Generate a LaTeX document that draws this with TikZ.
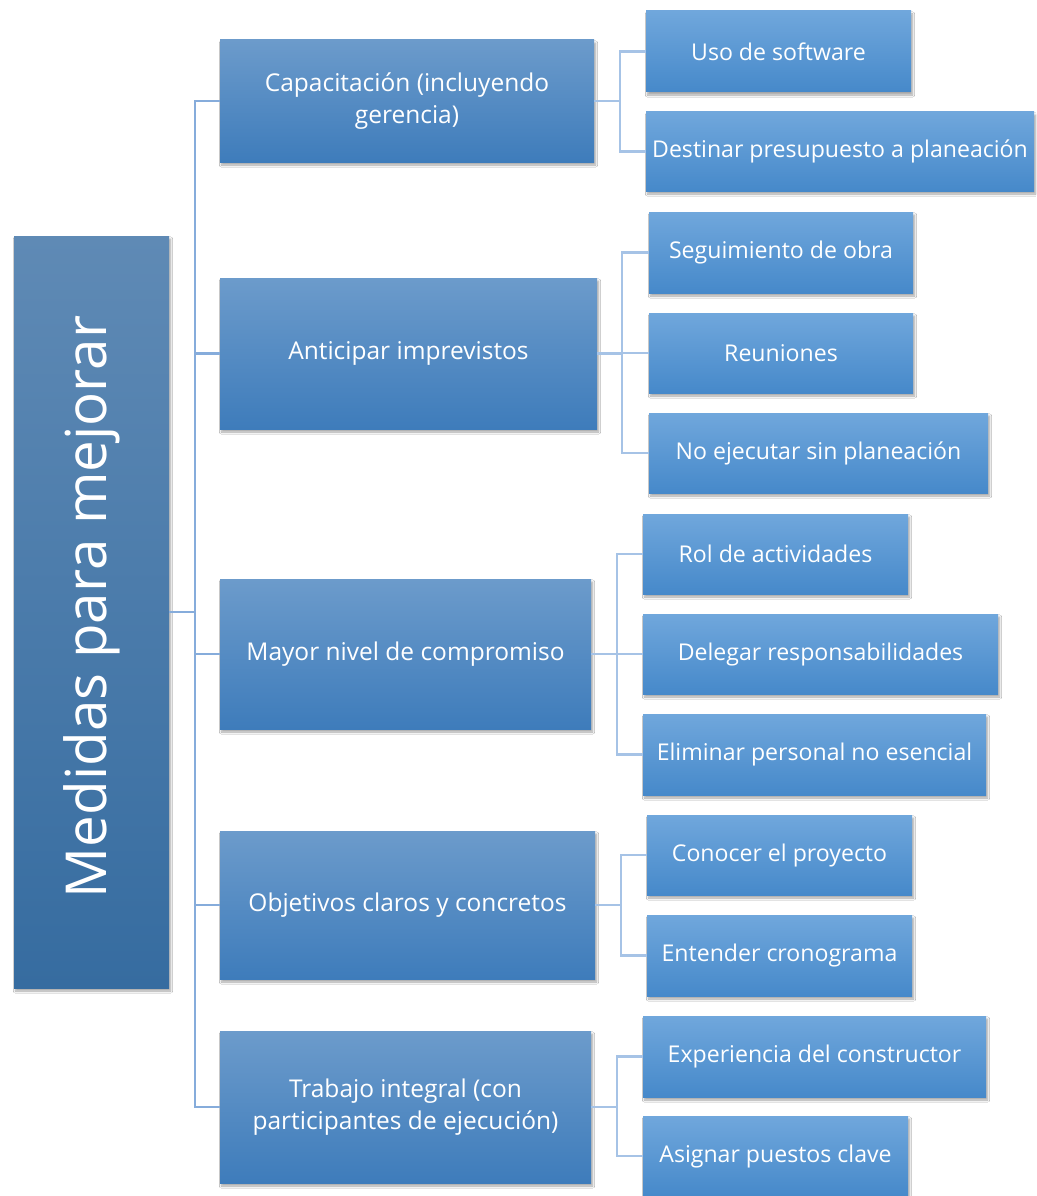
\documentclass[tikz,border=0pt]{standalone}
\usepackage{fontspec}
\setmainfont{Open Sans}
\usetikzlibrary{shadows.blur}
\definecolor{rootT}{HTML}{5F8AB5}
\definecolor{rootB}{HTML}{366CA0}
\definecolor{oneT}{HTML}{6C9BCB}
\definecolor{oneB}{HTML}{3E7CBB}
\definecolor{twoT}{HTML}{70A7DC}
\definecolor{twoB}{HTML}{4689CA}
\definecolor{linkA}{HTML}{86ACDB}
\definecolor{linkB}{HTML}{A6C3E6}
\tikzset{
  boxbase/.style={rectangle, inner sep=0pt, text=white, align=center,
    blur shadow={shadow xshift=1.5pt, shadow yshift=-3pt, shadow blur steps=6, shadow opacity=35}},
  rootbox/.style={boxbase, top color=rootT, bottom color=rootB, minimum width=155pt, minimum height=752pt},
  onebox/.style={boxbase, top color=oneT, bottom color=oneB, font=\fontsize{24.5}{32}\selectfont},
  twobox/.style={boxbase, top color=twoT, bottom color=twoB, font=\fontsize{23.1}{28}\selectfont},
  linka/.style={draw=linkA, line width=2.5pt},
  linkb/.style={draw=linkB, line width=2.5pt}
}
\begin{document}
\begin{tikzpicture}[x=1pt,y=-1pt]
\fill[white] (0,0) rectangle (1036,1196);
\useasboundingbox (0,0) rectangle (1036,1196);
% root
\node[rootbox] (root) at (91.5,612) {};
\node[text=white, rotate=90, font=\fontsize{56.5}{64}\selectfont] (roottext) at (91.5,607) {Medidas para mejorar};
% level 1
\node[onebox, minimum width=374pt, minimum height=122pt] (l1) at (407,101) {Capacitación (incluyendo\\gerencia)};
\node[onebox, minimum width=377pt, minimum height=151pt] (l2) at (408.5,353.5) {Anticipar imprevistos};
\node[onebox, minimum width=371pt, minimum height=150pt] (l3) at (405.5,654) {Mayor nivel de compromiso};
\node[onebox, minimum width=375pt, minimum height=148pt] (l4) at (407.5,905) {Objetivos claros y concretos};
\node[onebox, minimum width=371pt, minimum height=152pt] (l5) at (405.5,1107) {Trabajo integral (con\\participantes de ejecución)};
% level 2
\node[twobox, minimum width=265pt, minimum height=81pt] (a1) at (778.5,51.5) {Uso de software};
\node[twobox, minimum width=388pt, minimum height=79pt] (a2) at (840,151.5) {Destinar presupuesto a planeación};
\node[twobox, minimum width=264pt, minimum height=81pt] (b1) at (781,252.5) {Seguimiento de obra};
\node[twobox, minimum width=264pt, minimum height=80pt] (b2) at (781,353) {Reuniones};
\node[twobox, minimum width=339pt, minimum height=80pt] (b3) at (818.5,453) {No ejecutar sin planeación};
\node[twobox, minimum width=265pt, minimum height=80pt] (c1) at (775.5,554) {Rol de actividades};
\node[twobox, minimum width=355pt, minimum height=80pt] (c2) at (820.5,654) {Delegar responsabilidades};
\node[twobox, minimum width=343pt, minimum height=81pt] (c3) at (814.5,754.5) {Eliminar personal no esencial};
\node[twobox, minimum width=265pt, minimum height=80pt] (d1) at (779.5,855) {Conocer el proyecto};
\node[twobox, minimum width=265pt, minimum height=81pt] (d2) at (779.5,955.5) {Entender cronograma};
\node[twobox, minimum width=343pt, minimum height=81pt] (e1) at (814.5,1056.5) {Experiencia del constructor};
\node[twobox, minimum width=265pt, minimum height=80pt] (e2) at (775.5,1156) {Asignar puestos clave};
% connectors root -> level 1
\coordinate (bus) at (195,612);
\draw[linka] (root.east) -- (bus);
\foreach \n in {l1,l2,l3,l4,l5} \draw[linka] (bus) |- (\n.west);
% level 1 -> level 2
\coordinate (busa) at (620,101);
\coordinate (busb) at (622,353.5);
\coordinate (busc) at (617,654);
\coordinate (busd) at (621,905);
\coordinate (buse) at (617,1107);
\draw[linkb] (l1.east) -- (busa);
\foreach \n in {a1,a2} \draw[linkb] (busa) |- (\n.west);
\draw[linkb] (l2.east) -- (busb);
\foreach \n in {b1,b2,b3} \draw[linkb] (busb) |- (\n.west);
\draw[linkb] (l3.east) -- (busc);
\foreach \n in {c1,c2,c3} \draw[linkb] (busc) |- (\n.west);
\draw[linkb] (l4.east) -- (busd);
\foreach \n in {d1,d2} \draw[linkb] (busd) |- (\n.west);
\draw[linkb] (l5.east) -- (buse);
\foreach \n in {e1,e2} \draw[linkb] (buse) |- (\n.west);
\end{tikzpicture}
\end{document}
